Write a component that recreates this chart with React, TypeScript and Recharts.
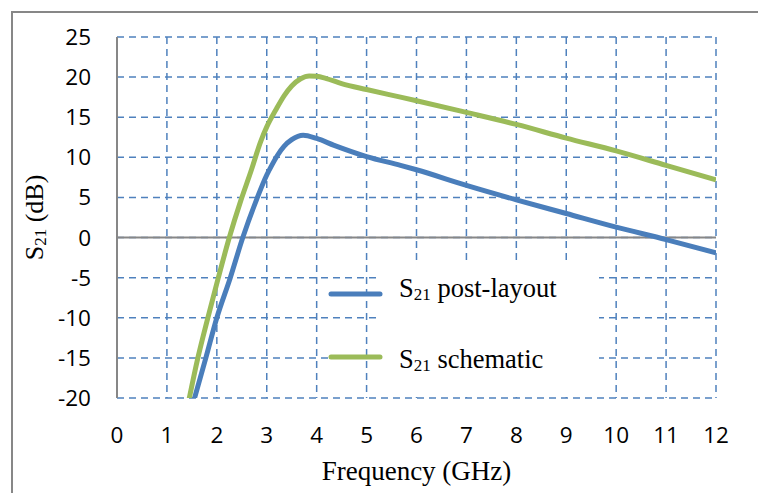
import React from 'react';
import { LineChart, Line, XAxis, YAxis, CartesianGrid, ReferenceLine, Legend, Label } from 'recharts';

// Frequency (GHz) / S21 (dB) samples
const freqPostLayout = [1.5, 1.78, 2.0, 2.27, 2.52, 2.8, 3.0, 3.1, 3.21, 3.35, 3.5, 3.73, 4.0, 4.35, 5, 5.68, 6, 7, 8, 9, 10, 11, 12];
const s21PostLayout = [-21.2, -15, -10, -5, 0, 4.8, 7.8, 9.0, 10.2, 11.4, 12.2, 12.75, 12.35, 11.5, 10.1, 9.0, 8.45, 6.5, 4.7, 3.0, 1.3, -0.25, -1.9];

const freqSchematic = [1.4, 1.62, 1.82, 2.03, 2.25, 2.48, 2.68, 2.88, 3.0, 3.18, 3.35, 3.5, 3.68, 3.85, 4.0, 4.18, 4.5, 5, 5.68, 6, 7, 8, 9, 10, 11, 12];
const s21Schematic = [-21.5, -15, -10, -5, 0, 4.6, 8.2, 12.0, 13.8, 15.9, 17.7, 18.9, 19.8, 20.15, 20.1, 19.85, 19.2, 18.45, 17.5, 17.05, 15.6, 14.1, 12.4, 10.8, 9.0, 7.2];

const xTicks = [0, 1, 2, 3, 4, 5, 6, 7, 8, 9, 10, 11, 12];
const yTicks = [-20, -15, -10, -5, 0, 5, 10, 15, 20, 25];

const seriesNames = ['S21 post-layout', 'S21 schematic'];
const xAxisTitle = 'Frequency (GHz)';
const yAxisTitle = 'S21 (dB)';

const BLUE = '#4a7ebb';
const GREEN = '#9bbb59';
const GRID = '#4f81bd';
const AXIS = '#878787';
const SERIF = "'Liberation Serif', 'Times New Roman', serif";
const SANS = "'Open Sans', sans-serif";

const postData = freqPostLayout.map((f, i) => ({ f, v: s21PostLayout[i] }));
const schemData = freqSchematic.map((f, i) => ({ f, v: s21Schematic[i] }));

function splitSub(name: string) {
  const m = name.match(/^S(\d+)(.*)$/);
  if (!m) return { base: name, sub: '', rest: '' };
  return { base: 'S', sub: m[1], rest: m[2] };
}

const YTitle = (props: any) => {
  const vb = props.viewBox || {};
  const cx = vb.x + 43;
  const cy = vb.y + vb.height / 2;
  const p = splitSub(yAxisTitle);
  return (
    <text x={cx} y={cy} transform={`rotate(-90, ${cx}, ${cy})`} textAnchor="middle" fontFamily={SERIF} fontSize={26} fill="#000">
      <tspan>{p.base}</tspan>
      <tspan fontSize={17} dy={3}>{p.sub}</tspan>
      <tspan dy={-3}>{p.rest}</tspan>
    </text>
  );
};

const XTitle = (props: any) => {
  const vb = props.viewBox || {};
  return (
    <text x={vb.x + vb.width / 2} y={vb.y + 82} textAnchor="middle" fontFamily={SERIF} fontSize={27} fill="#000">
      {xAxisTitle}
    </text>
  );
};

const LegendContent = (props: any) => {
  const payload = props.payload || [];
  const rows = [
    { ly: 294, ty: 297 },
    { ly: 357, ty: 368 },
  ];
  return (
    <svg width={758} height={493} style={{ position: 'absolute', left: 0, top: 0, overflow: 'visible' }}>
      <rect x={381} y={261} width={218} height={134} fill="#fff" />
      {payload.map((entry: any, i: number) => {
        const r = rows[i] || rows[0];
        const p = splitSub(String(entry.value));
        return (
          <g key={i}>
            <line x1={331} x2={380} y1={r.ly} y2={r.ly} stroke={entry.color} strokeWidth={5} strokeLinecap="round" />
            <text x={399} y={r.ty} fontFamily={SERIF} fontSize={26.5} fill="#000">
              <tspan>{p.base}</tspan>
              <tspan fontSize={17} dy={3}>{p.sub}</tspan>
              <tspan dy={-3}>{p.rest}</tspan>
            </text>
          </g>
        );
      })}
    </svg>
  );
};

export default function App() {
  return (
    <div style={{ position: 'absolute', left: 0, top: 0, width: 758, height: 493, overflow: 'hidden', background: '#fff' }}>
      <div style={{ position: 'absolute', left: 11, top: 11, width: 800, height: 600, borderLeft: `2px solid ${AXIS}`, borderTop: `2px solid ${AXIS}` }} />
      <div style={{ position: 'absolute', left: 0, top: 0 }}>
        <LineChart width={758} height={493} margin={{ top: 37, right: 42, bottom: 0, left: 0 }}>
          <CartesianGrid stroke={GRID} strokeDasharray="7 5" strokeWidth={1.5} horizontalValues={yTicks} verticalValues={xTicks} />
          <XAxis
            dataKey="f"
            type="number"
            domain={[0, 12]}
            ticks={xTicks}
            allowDataOverflow
            axisLine={false}
            tickLine={false}
            tickSize={6}
            tickMargin={23}
            height={95}
            interval={0}
            tick={{ fontFamily: SANS, fontSize: 22.5, fill: '#000' }}
          >
            <Label content={XTitle} />
          </XAxis>
          <YAxis
            type="number"
            domain={[-20, 25]}
            ticks={yTicks}
            allowDataOverflow
            width={117}
            axisLine={{ stroke: AXIS, strokeWidth: 2 }}
            tickLine={false}
            tickSize={6}
            tickMargin={20}
            interval={0}
            tick={{ fontFamily: SANS, fontSize: 22.5, fill: '#000' }}
          >
            <Label content={YTitle} />
          </YAxis>
          <ReferenceLine y={0} stroke={AXIS} strokeWidth={2} />
          <Line data={postData} dataKey="v" name={seriesNames[0]} type="monotone" stroke={BLUE} strokeWidth={5} dot={false} activeDot={false} isAnimationActive={false} />
          <Line data={schemData} dataKey="v" name={seriesNames[1]} type="monotone" stroke={GREEN} strokeWidth={5} dot={false} activeDot={false} isAnimationActive={false} />
          <Legend layout="horizontal" verticalAlign="middle" align="center" wrapperStyle={{ left: 0, top: 0, width: 758, height: 493 }} content={LegendContent} />
        </LineChart>
      </div>
    </div>
  );
}
